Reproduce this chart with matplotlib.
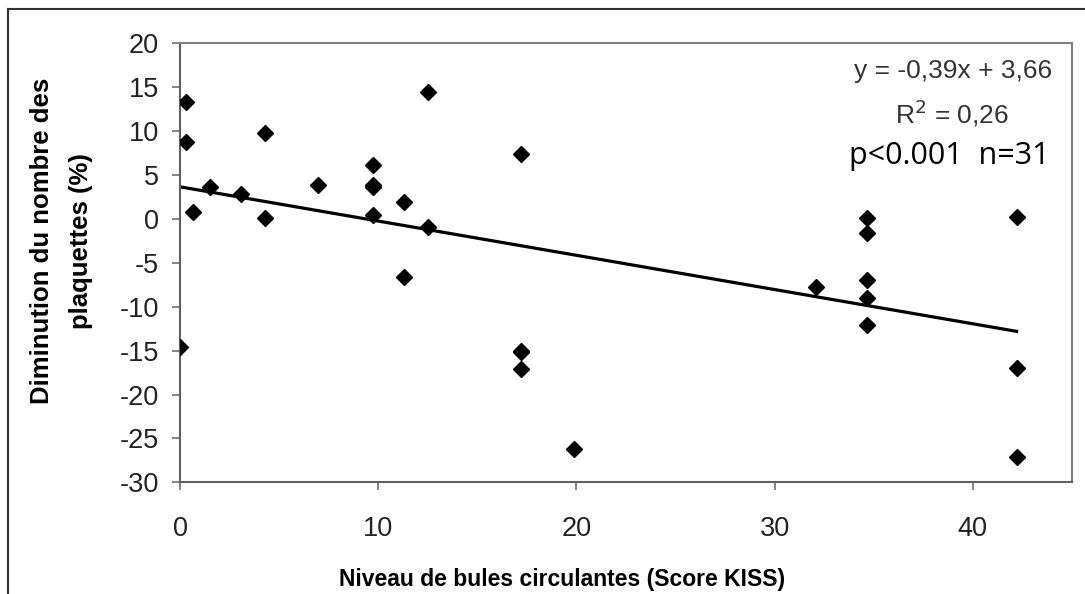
import matplotlib.pyplot as plt
from matplotlib.lines import Line2D
import numpy as np

# data (KISS score vs platelet decrease)
kiss = [0.3, 0.3, 0.67, 1.52, 3.07, 4.3, 4.3, 6.96, 9.74, 9.74, 9.74, 9.74,
        11.29, 11.29, 12.5, 12.5, 0.0, 17.19, 17.19, 17.19, 17.19, 19.89,
        32.1, 34.68, 34.68, 34.68, 34.68, 34.68, 42.21, 42.21, 42.21]
plaq = [13.35, 8.8, 0.82, 3.67, 2.84, 9.82, 0.07, 3.86, 6.14, 3.86, 3.6, 0.4,
        1.96, -6.6, 14.49, -0.96, -14.55, 7.35, -15.0, -15.1, -17.1, -26.24,
        -7.72, 0.07, -1.57, -6.96, -9.05, -12.08, 0.18, -17.0, -27.08]

slope = -0.39
intercept = 3.66
fit_x = [0, 42.21]

yticks = [20, 15, 10, 5, 0, -5, -10, -15, -20, -25, -30]
xticks = [0, 10, 20, 30, 40]

plt.rcParams['font.family'] = ['Liberation Sans', 'DejaVu Sans']
plt.rcParams['axes.unicode_minus'] = False

fig = plt.figure(figsize=(10.85, 5.94), dpi=100)
ax = fig.add_axes([0.1659, 0.188, 0.822, 0.739])

fit_y = [slope * v + intercept for v in fit_x]
ax.plot(fit_x, fit_y, color='black', lw=2.3, zorder=2)
ax.plot(kiss, plaq, 'D', color='black', markersize=8.5, zorder=3)

ax.set_xlim(0, 45)
ax.set_ylim(-30, 20)
ax.set_xticks(xticks)
ax.set_yticks(yticks)
ax.tick_params(axis='both', direction='out', length=6, width=1.2,
               color='#707070', labelsize=19.5, labelcolor='#222222')
ax.tick_params(axis='y', pad=9)
ax.tick_params(axis='x', pad=18)

for s in ax.spines.values():
    s.set_color('#808080')
    s.set_linewidth(1.5)
ax.spines['left'].set_color('#606060')
ax.spines['bottom'].set_color('#606060')

ax.set_xlabel('Niveau de bules circulantes (Score KISS)', fontsize=16.5,
              fontweight='bold', va='center')
ax.xaxis.set_label_coords(0.428, -0.222)
ax.set_ylabel('Diminution du nombre des\nplaquettes (%)', fontsize=18.5,
              fontweight='bold', linespacing=1.8, va='center')
ax.yaxis.set_label_coords(-0.133, 0.55)

ax.text(0.978, 0.965, 'y = -0,39x + 3,66', transform=ax.transAxes,
        ha='right', va='top', fontsize=19, color='#333333')
ax.text(0.866, 0.876, 'R$^2$ = 0,26', transform=ax.transAxes,
        ha='center', va='top', fontsize=19, color='#333333')
ax.text(0.975, 0.777, 'p<0.001  n=31', transform=ax.transAxes,
        ha='right', va='top', fontsize=22, color='black',
        family=['Open Sans', 'DejaVu Sans'])

# outer frame of the scanned figure
fig.add_artist(Line2D([8 / 1085, 8 / 1085], [0, 1 - 9 / 594],
                      transform=fig.transFigure, color='#333333', lw=1.5))
fig.add_artist(Line2D([8 / 1085, 1], [1 - 9 / 594, 1 - 9 / 594],
                      transform=fig.transFigure, color='#333333', lw=1.5))

fig.savefig('out.png', dpi=100)
